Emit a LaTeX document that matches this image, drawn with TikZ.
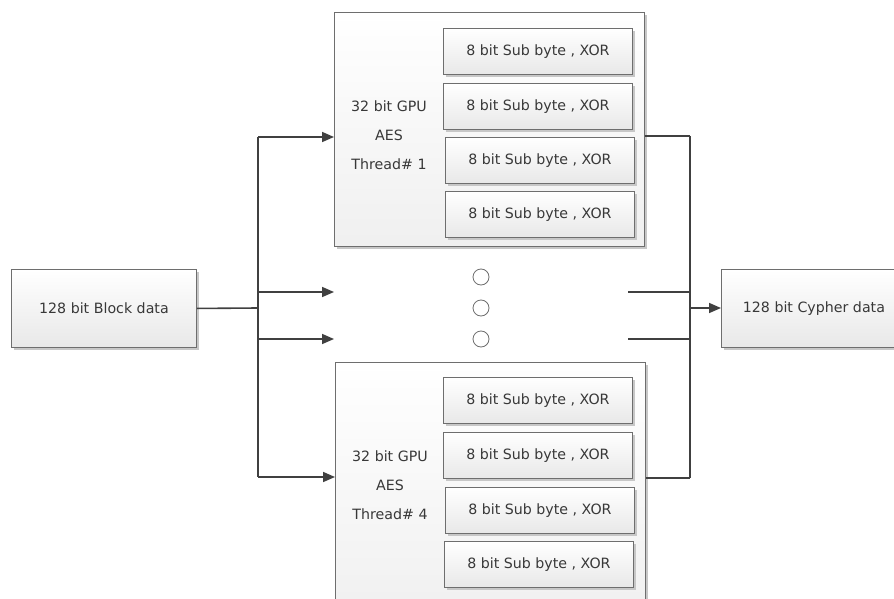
\documentclass[tikz,border=0pt]{standalone}
\usepackage{fontspec}
\setmainfont{DejaVu Sans}
\usetikzlibrary{arrows.meta,shadows}

\definecolor{lineC}{HTML}{404040}
\definecolor{boxC}{HTML}{6E6E6E}
\definecolor{txtC}{HTML}{383838}

\tikzset{
  basebox/.style={draw=boxC, line width=0.9pt, text=txtC, inner sep=0pt,
    anchor=north west, top color=white, bottom color=black!9,
    drop shadow={shadow xshift=2.5pt, shadow yshift=-2.5pt, fill=black!22, opacity=1},
    font=\fontsize{14.2}{17}\selectfont},
  subbox/.style={basebox, minimum width=189pt, minimum height=46pt},
  iobox/.style={basebox, minimum height=78pt},
  threadbox/.style={basebox, minimum width=310pt, top color=white, bottom color=black!6},
  threadlbl/.style={text=txtC, align=center, inner sep=0pt,
    font=\fontsize{14.2}{29}\selectfont},
  dot/.style={circle, draw=boxC, line width=0.8pt, fill=white, minimum size=16pt, inner sep=0pt},
  wire/.style={draw=lineC, line width=1.6pt},
  arr/.style={wire, -{Triangle[length=12pt,width=10pt]}},
}

\begin{document}
\begin{tikzpicture}[x=1pt, y=-1pt]
  \useasboundingbox (0,0) rectangle (894,599);
  \clip (0,0) rectangle (894,599);
  \fill[white] (0,0) rectangle (894,599);

  % input and output blocks (the output block runs off the right edge)
  \node[iobox, minimum width=185pt] (blk) at (11,269) {128 bit Block data};
  \node[iobox, minimum width=235pt] (cyp) at (721,269) {128 bit Cypher data\hspace*{50pt}};

  % thread 1
  \node[threadbox, minimum height=234pt] (t1) at (334,12) {};
  \node[threadlbl] (t1l) at (389,135) {32 bit GPU\\AES\\Thread\# 1};
  \node[subbox] (a1) at (443,28)  {8 bit Sub byte , XOR};
  \node[subbox] (a2) at (443,83)  {8 bit Sub byte , XOR};
  \node[subbox] (a3) at (445,137) {8 bit Sub byte , XOR};
  \node[subbox] (a4) at (445,191) {8 bit Sub byte , XOR};

  % thread 4
  \node[threadbox, minimum height=260pt] (t4) at (335,362) {};
  \node[threadlbl] (t4l) at (390,485) {32 bit GPU\\AES\\Thread\# 4};
  \node[subbox] (b1) at (443,377) {8 bit Sub byte , XOR};
  \node[subbox] (b2) at (443,432) {8 bit Sub byte , XOR};
  \node[subbox] (b3) at (445,487) {8 bit Sub byte , XOR};
  \node[subbox] (b4) at (444,541) {8 bit Sub byte , XOR};

  % ellipsis between the threads
  \node[dot] (d1) at (481,277) {};
  \node[dot] (d2) at (481,308) {};
  \node[dot] (d3) at (481,339) {};

  % fan-out bus
  \coordinate (inA) at (258,137);
  \coordinate (inB) at (258,292);
  \coordinate (inC) at (258,339);
  \coordinate (inD) at (258,477);
  \coordinate (inM) at (258,308);
  \coordinate (inBe) at (334,292);
  \coordinate (inCe) at (334,339);
  \draw[wire] (inA) -- (inD);
  \draw[wire] (blk.east) -- (inM);
  \draw[arr] (inA) -- (t1.west |- inA);
  \draw[arr] (inB) -- (inBe);
  \draw[arr] (inC) -- (inCe);
  \draw[arr] (inD) -- (t4.west |- inD);

  % fan-in bus
  \coordinate (outA) at (690,136);
  \coordinate (outB) at (690,292);
  \coordinate (outC) at (690,339);
  \coordinate (outD) at (690,478);
  \coordinate (outM) at (690,308);
  \coordinate (outBs) at (628,292);
  \coordinate (outCs) at (628,339);
  \draw[wire] (outA) -- (outD);
  \draw[wire] (t1.east |- outA) -- (outA);
  \draw[wire] (outBs) -- (outB);
  \draw[wire] (outCs) -- (outC);
  \draw[wire] (t4.east |- outD) -- (outD);
  \draw[arr] (outM) -- (cyp.west |- outM);
\end{tikzpicture}
\end{document}
